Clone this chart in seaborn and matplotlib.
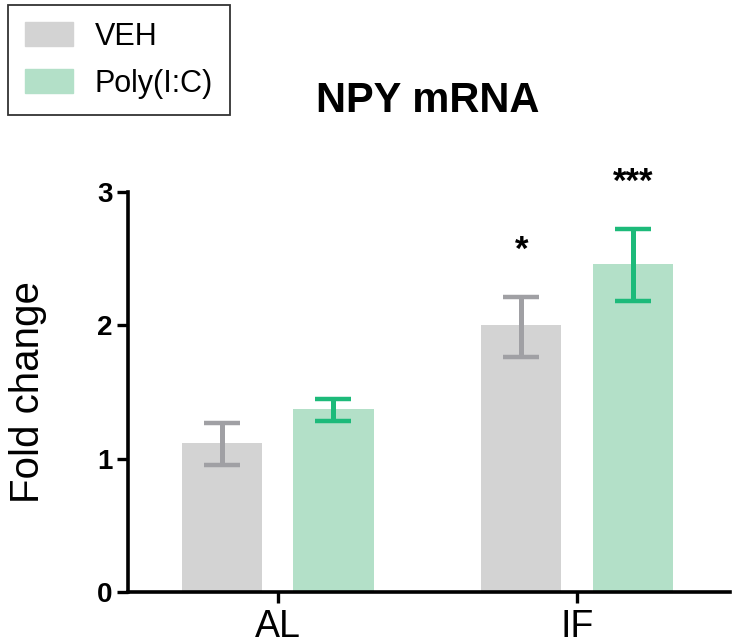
import matplotlib
matplotlib.use("Agg")
import matplotlib.pyplot as plt
import seaborn as sns
import pandas as pd

# values
groups = ["AL", "IF"]
treatments = ["VEH", "Poly(I:C)"]
veh_mean = [1.12, 2.00]
veh_low = [0.95, 1.76]
veh_high = [1.27, 2.21]
poly_mean = [1.37, 2.46]
poly_low = [1.28, 2.18]
poly_high = [1.45, 2.72]
stars = ["", "*"]
poly_stars = ["", "***"]

bar_colors = ["#d3d3d3", "#b3e0c8"]
err_colors = ["#a0a0a4", "#1dba7a"]

df = pd.DataFrame({
    "group": groups * 2,
    "treatment": [treatments[0]] * 2 + [treatments[1]] * 2,
    "value": veh_mean + poly_mean,
})

sns.set_style("ticks")
plt.rcParams["font.family"] = ["Liberation Sans", "DejaVu Sans"]
plt.rcParams.update({"text.color": "black", "axes.labelcolor": "black",
                     "xtick.color": "black", "ytick.color": "black",
                     "axes.edgecolor": "black"})

fig = plt.figure(figsize=(7.35, 6.44), dpi=100)
ax = fig.add_axes([0.174, 0.0807, 0.819, 0.621])

sns.barplot(data=df, x="group", y="value", hue="treatment", order=groups,
            hue_order=treatments, palette=bar_colors, errorbar=None,
            width=0.745, gap=0.28, linewidth=0, saturation=1,
            ax=ax, legend=False)

lows = [veh_low, poly_low]
highs = [veh_high, poly_high]
means = [veh_mean, poly_mean]
labels = [stars, poly_stars]
star_y = [[0, 2.49], [0, 3.0]]
bar_sets = list(ax.containers)
for i, cont in enumerate(bar_sets):
    xs = [p.get_x() + p.get_width() / 2 for p in cont.patches]
    yerr = [[m - lo for m, lo in zip(means[i], lows[i])],
            [hi - m for m, hi in zip(means[i], highs[i])]]
    ax.errorbar(xs, means[i], yerr=yerr, fmt="none", ecolor=err_colors[i],
                elinewidth=3.6, capsize=13.3, capthick=3.2, zorder=3)
    for x, s, y in zip(xs, labels[i], star_y[i]):
        if s:
            ax.text(x, y, s, ha="center", va="baseline", fontsize=25,
                    fontweight="bold", clip_on=False)

ax.set_ylim(0, 3)
ax.set_xlim(-0.5, 1.51)
ax.set_yticks([0, 1, 2, 3])
ax.set_xlabel("")
ax.set_ylabel("Fold change", fontsize=29)
ax.yaxis.set_label_coords(-0.135, 0.5)
sns.despine(ax=ax)
for side in ["left", "bottom"]:
    ax.spines[side].set_linewidth(2.6)
ax.tick_params(axis="y", labelsize=20, width=2.4, length=8, pad=3)
ax.tick_params(axis="x", labelsize=27, width=2.4, length=8, pad=4)
for t in ax.get_yticklabels():
    t.set_fontweight("bold")

fig.text(0.582, 1 - 112 / 644, "NPY mRNA", ha="center", va="baseline",
         fontsize=30, fontweight="bold")

handles = [plt.Rectangle((0, 0), 1, 1, color=c) for c in bar_colors]
leg = fig.legend(handles, treatments, loc="upper left",
                 bbox_to_anchor=(8 / 735, 1 - 5 / 644), borderaxespad=0,
                 fontsize=22, frameon=True, fancybox=False,
                 handlelength=1.57, handleheight=0.85, handletextpad=0.72,
                 labelspacing=0.55, borderpad=0.55)
leg.get_frame().set_edgecolor("black")
leg.get_frame().set_linewidth(1.3)

fig.savefig("out.png", dpi=100)
